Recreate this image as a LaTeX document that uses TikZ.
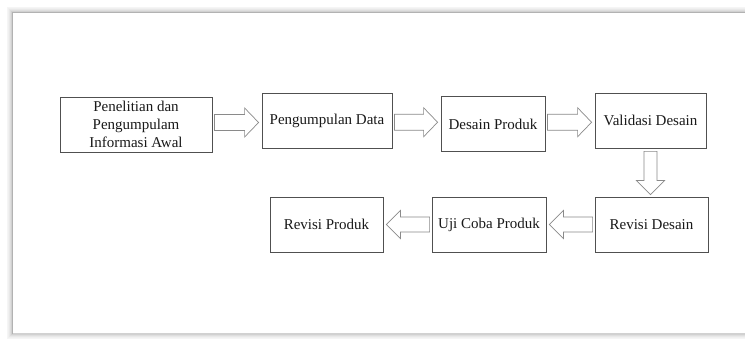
\documentclass[tikz,border=0pt]{standalone}
\usepackage{fontspec}
\setmainfont{Liberation Serif}
\usetikzlibrary{calc}
\definecolor{boxline}{HTML}{505050}
\definecolor{arrline}{HTML}{8A8A8A}
\tikzset{
  stepbox/.style={draw=boxline, line width=0.8pt, inner sep=0pt, minimum height=55pt,
    align=center, font=\fontsize{15}{18}\selectfont, text=black!90},
  barrow/.style={draw=arrline, line width=0.7pt, fill=white, line join=miter},
}
\newcommand\arrowright[2]{%
  \draw[barrow] let \p1=(#1.east), \p2=(#2.west), \n1={0.5*(\y1+\y2)} in
    (\x1+2pt,\n1+8pt) -- (\x2-17pt,\n1+8pt) -- (\x2-17pt,\n1+14.5pt) -- (\x2-3pt,\n1)
    -- (\x2-17pt,\n1-14.5pt) -- (\x2-17pt,\n1-8pt) -- (\x1+2pt,\n1-8pt) -- cycle;}
\newcommand\arrowleft[2]{%
  \draw[barrow] let \p1=(#1.west), \p2=(#2.east), \n1={0.5*(\y1+\y2)} in
    (\x1-2pt,\n1+7.5pt) -- (\x2+17pt,\n1+7.5pt) -- (\x2+17pt,\n1+14pt) -- (\x2+3pt,\n1)
    -- (\x2+17pt,\n1-14pt) -- (\x2+17pt,\n1-7.5pt) -- (\x1-2pt,\n1-7.5pt) -- cycle;}
\newcommand\arrowdown[2]{%
  \draw[barrow] let \p1=(#1.south), \p2=(#2.north) in
    (\x1-6.5pt,\y1-3pt) -- (\x1-6.5pt,\y2+16pt) -- (\x1-14pt,\y2+16pt) -- (\x1,\y2+2pt)
    -- (\x1+14pt,\y2+16pt) -- (\x1+6.5pt,\y2+16pt) -- (\x1+6.5pt,\y1-3pt) -- cycle;}
\begin{document}
\begin{tikzpicture}[x=1pt,y=-1pt]
\useasboundingbox (0,0) rectangle (745,339);
\fill[white] (0,0) rectangle (745,339);
% frame with soft shadow
\foreach \i/\c in {5/black!4,4/black!6,3/black!9,2/black!13,1/black!18}{
  \fill[\c] (12-\i,12-\i) rectangle (748,334+\i);
}
\fill[white] (13,13) rectangle (748,333);
\draw[black!30, line width=1pt] (12.5,334) -- (12.5,12.5) -- (748,12.5);
\draw[black!18, line width=0.8pt] (12.5,333.5) -- (748,333.5);
% boxes
\node[stepbox, minimum width=152pt] (b1) at (136,124.5) {Penelitian dan\\Pengumpulam\\Informasi Awal};
\node[stepbox, minimum width=130pt] (b2) at (327,120.5) {Pengumpulan Data};
\node[stepbox, minimum width=104pt] (b3) at (493,124) {Desain Produk};
\node[stepbox, minimum width=111pt] (b4) at (650.5,120.5) {Validasi Desain};
\node[stepbox, minimum width=113pt] (b5) at (651.5,224.5) {Revisi Desain};
\node[stepbox, minimum width=114pt] (b6) at (489,224.5) {Uji Coba Produk};
\node[stepbox, minimum width=113pt] (b7) at (326.5,224.5) {Revisi Produk};
% block arrows
\arrowright{b1}{b2}
\arrowright{b2}{b3}
\arrowright{b3}{b4}
\arrowdown{b4}{b5}
\arrowleft{b5}{b6}
\arrowleft{b6}{b7}
\end{tikzpicture}
\end{document}
